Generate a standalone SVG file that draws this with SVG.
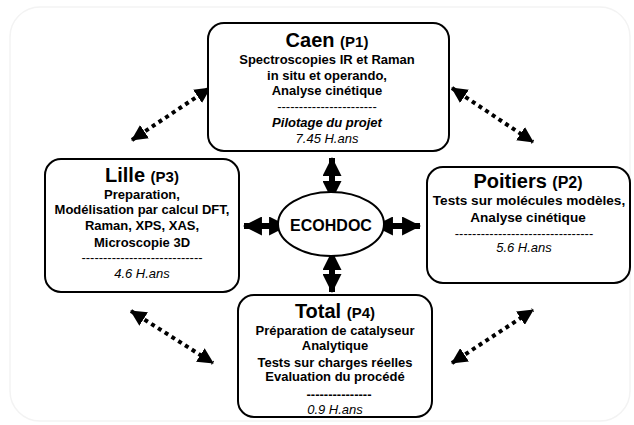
<svg xmlns="http://www.w3.org/2000/svg" width="634" height="425" viewBox="0 0 634 425">
<defs>
<style>
text{font-family:"Liberation Sans",Arial,sans-serif;text-anchor:middle;fill:#000}
.t{font-size:20px;font-weight:bold}
.p{font-size:15px;font-weight:bold}
.b{font-size:13px;font-weight:bold}
.b14{font-size:13.6px;font-weight:bold}
.i{font-size:13px;font-style:italic}
.bi{font-size:13px;font-style:italic;font-weight:bold}
.d{font-size:13px}
.box{fill:#fff;stroke:#000;stroke-width:2}
.solid{stroke:#000;stroke-width:6;fill:none;marker-start:url(#hs);marker-end:url(#hs)}
.dot{stroke:#000;stroke-width:4;stroke-dasharray:4 4;fill:none;marker-start:url(#hd);marker-end:url(#hd)}
</style>
<marker id="hs" viewBox="0 0 18 18" refX="17" refY="9" markerWidth="19" markerHeight="19" markerUnits="userSpaceOnUse" orient="auto-start-reverse">
<path d="M0,0 L18,9 L0,18 Z" fill="#000"/>
</marker>
<marker id="hd" viewBox="0 0 16 16" refX="15" refY="8" markerWidth="16" markerHeight="16" markerUnits="userSpaceOnUse" orient="auto-start-reverse">
<path d="M0,0 L16,8 L0,16 Z" fill="#000"/>
</marker>
</defs>
<rect x="10" y="7" width="620" height="414" rx="30" fill="none" stroke="#f3f3f3" stroke-width="1.5"/>
<g id="connectors">
<line class="solid" x1="332" y1="158" x2="332" y2="199"/>
<line class="solid" x1="332" y1="252" x2="332" y2="292"/>
<line class="solid" x1="244" y1="226" x2="287" y2="226"/>
<line class="solid" x1="375" y1="226" x2="420" y2="226"/>
<line class="dot" x1="132" y1="140" x2="210" y2="88"/>
<line class="dot" x1="452" y1="88" x2="533" y2="142"/>
<line class="dot" x1="131" y1="311" x2="213" y2="363"/>
<line class="dot" x1="452" y1="363" x2="533" y2="310"/>
</g>
<g id="caen">
<rect class="box" x="208" y="23" width="241" height="128" rx="16"/>
<text x="327" y="47"><tspan class="t">Caen </tspan><tspan class="p">(P1)</tspan></text>
<text class="b" x="327" y="64">Spectroscopies IR et Raman</text>
<text class="b" x="327" y="80">in situ et operando,</text>
<text class="b" x="327" y="95">Analyse cinétique</text>
<text class="d" x="327" y="111">-----------------------</text>
<text class="bi" x="327" y="127">Pilotage du projet</text>
<text class="i" x="327" y="143">7.45 H.ans</text>
</g>
<g id="lille">
<rect class="box" x="45" y="159" width="194" height="133" rx="16"/>
<text x="142" y="182"><tspan class="t">Lille </tspan><tspan class="p">(P3)</tspan></text>
<text class="b" x="142" y="199">Preparation,</text>
<text class="b" x="142" y="214">Modélisation par calcul DFT,</text>
<text class="b" x="142" y="230">Raman, XPS, XAS,</text>
<text class="b" x="142" y="247">Microscopie 3D</text>
<text class="d" x="142" y="262">----------------------------</text>
<text class="i" x="142" y="278">4.6 H.ans</text>
</g>
<g id="ecohdoc">
<ellipse cx="331" cy="224" rx="53" ry="32" fill="#fff" stroke="#000" stroke-width="2"/>
<text x="331" y="231" style="font-size:16px;font-weight:bold">ECOHDOC</text>
</g>
<g id="poitiers">
<rect class="box" x="427" y="167" width="203" height="116" rx="16"/>
<text x="528" y="188"><tspan class="t">Poitiers </tspan><tspan style="font-size:16px;font-weight:bold">(P2)</tspan></text>
<text class="b14" x="529" y="205">Tests sur molécules modèles,</text>
<text class="b14" x="528" y="222">Analyse cinétique</text>
<text class="d" x="524" y="238">--------------------------------</text>
<text class="i" x="524" y="252">5.6  H.ans</text>
</g>
<g id="total">
<rect class="box" x="238" y="295" width="194" height="122" rx="16"/>
<text x="335" y="318"><tspan class="t">Total </tspan><tspan class="p">(P4)</tspan></text>
<text class="b" x="335" y="335">Préparation de catalyseur</text>
<text class="b" x="335" y="350">Analytique</text>
<text class="b" x="335" y="367">Tests sur charges réelles</text>
<text class="b" x="335" y="381">Evaluation du procédé</text>
<text class="b" x="339" y="399">---------------</text>
<text class="i" x="335" y="414">0.9 H.ans</text>
</g>
</svg>
